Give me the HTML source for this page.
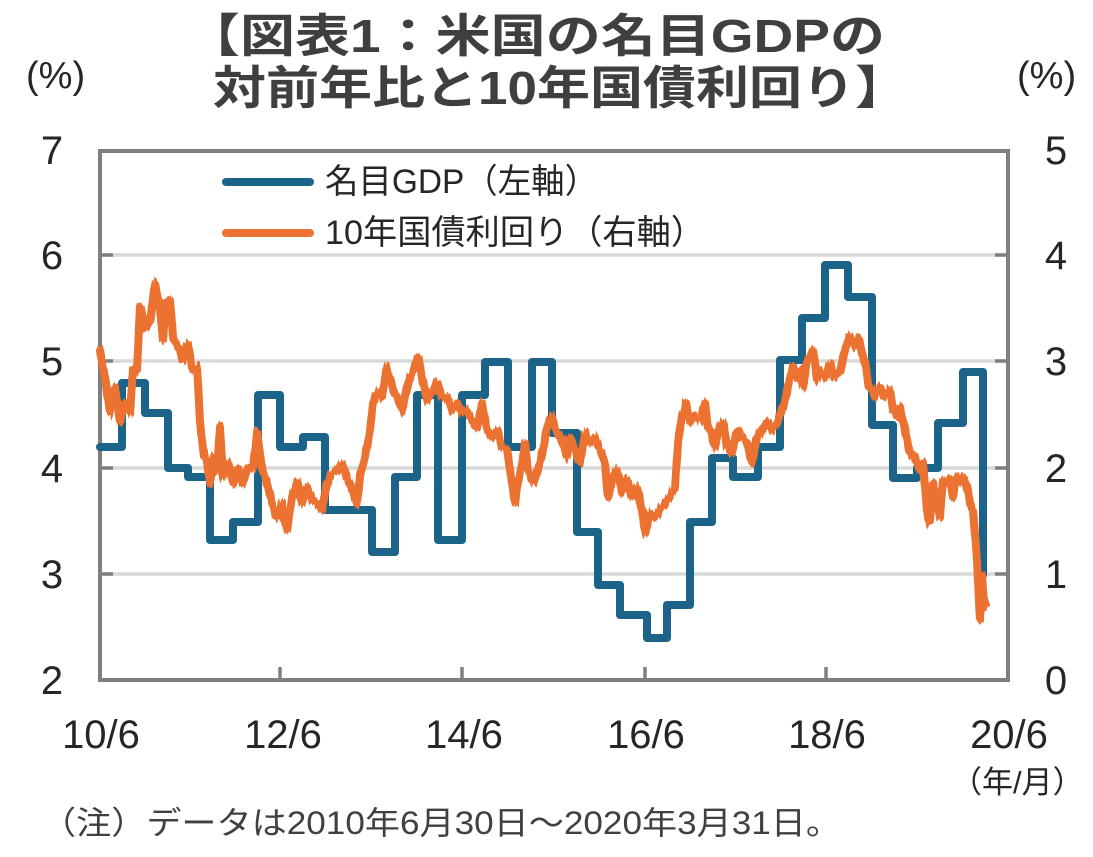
<!DOCTYPE html>
<html><head><meta charset="utf-8">
<style>
html,body{margin:0;padding:0;background:#fff;}
svg{display:block;}
text{font-family:"Liberation Sans","Noto Sans CJK JP",sans-serif;}
</style></head>
<body>
<svg width="1093" height="857" viewBox="0 0 1093 857" xmlns="http://www.w3.org/2000/svg">
<defs>
<filter id="jit" filterUnits="userSpaceOnUse" x="80" y="240" width="940" height="420">
<feTurbulence type="fractalNoise" baseFrequency="0.45 0.02" numOctaves="2" seed="7" result="n"/>
<feColorMatrix in="n" type="matrix" values="0 0 0 0 0.5  0 1 0 0 0  0 0 0 0 0  0 0 0 0 1" result="m"/>
<feDisplacementMap in="SourceGraphic" in2="m" scale="11" xChannelSelector="R" yChannelSelector="G"/>
</filter>
</defs>
<rect width="1093" height="857" fill="#fff"/>
<!-- Title -->
<text x="185" y="52" font-size="46" font-weight="bold" fill="#3f3f3f" textLength="700" lengthAdjust="spacingAndGlyphs">【図表1：米国の名目GDPの</text>
<text x="213" y="104" font-size="46" font-weight="bold" fill="#3f3f3f" textLength="695" lengthAdjust="spacingAndGlyphs">対前年比と10年国債利回り】</text>
<!-- unit labels -->
<text x="26" y="88" font-size="38" fill="#262626">(%)</text>
<text x="1017" y="88" font-size="38" fill="#262626">(%)</text>

<!-- gridlines -->
<g stroke="#d9d9d9" stroke-width="3.5">
<line x1="100" y1="255" x2="1008" y2="255"/>
<line x1="100" y1="361" x2="1008" y2="361"/>
<line x1="100" y1="468" x2="1008" y2="468"/>
<line x1="100" y1="574" x2="1008" y2="574"/>
</g>
<!-- tick stubs -->
<g stroke="#7f7f7f" stroke-width="3.5">
<line x1="100" y1="255" x2="113" y2="255"/>
<line x1="100" y1="361" x2="113" y2="361"/>
<line x1="100" y1="468" x2="113" y2="468"/>
<line x1="100" y1="574" x2="113" y2="574"/>
<line x1="995" y1="255" x2="1008" y2="255"/>
<line x1="995" y1="361" x2="1008" y2="361"/>
<line x1="995" y1="468" x2="1008" y2="468"/>
<line x1="995" y1="574" x2="1008" y2="574"/>
<line x1="280" y1="667" x2="280" y2="680"/>
<line x1="462" y1="667" x2="462" y2="680"/>
<line x1="645" y1="667" x2="645" y2="680"/>
<line x1="826" y1="667" x2="826" y2="680"/>
</g>
<!-- frame -->
<rect x="100" y="151" width="908" height="529" fill="none" stroke="#7f7f7f" stroke-width="4"/>

<!-- axis labels -->
<g font-size="40" fill="#262626" text-anchor="middle">
<text x="52" y="164">7</text>
<text x="52" y="269">6</text>
<text x="52" y="375">5</text>
<text x="52" y="482">4</text>
<text x="52" y="588">3</text>
<text x="52" y="694">2</text>
<text x="1056" y="164">5</text>
<text x="1056" y="269">4</text>
<text x="1056" y="375">3</text>
<text x="1056" y="482">2</text>
<text x="1056" y="588">1</text>
<text x="1056" y="694">0</text>
<text x="101" y="748">10/6</text>
<text x="283" y="748">12/6</text>
<text x="464" y="748">14/6</text>
<text x="646" y="748">16/6</text>
<text x="827" y="748">18/6</text>
<text x="1009" y="748">20/6</text>
</g>
<text x="951" y="793" font-size="31" fill="#262626">（年/月）</text>

<!-- legend -->
<line x1="226" y1="182" x2="310" y2="182" stroke="#1c6389" stroke-width="8" stroke-linecap="round"/>
<line x1="226" y1="233" x2="310" y2="233" stroke="#ec7232" stroke-width="8" stroke-linecap="round"/>
<text x="325" y="193" font-size="34" fill="#262626" textLength="273" lengthAdjust="spacingAndGlyphs">名目GDP（左軸）</text>
<text x="325" y="244" font-size="34" fill="#262626" textLength="380" lengthAdjust="spacingAndGlyphs">10年国債利回り（右軸）</text>

<!-- GDP series -->
<path fill="none" stroke="#1c6389" stroke-width="8" stroke-linejoin="round" stroke-linecap="round"
d="M100,447 H122 V383 H145 V413 H168 V468 H188 V477 H210 V540 H233 V522 H258 V395 H280 V447 H303 V437 H325 V510 H372 V552 H395 V477 H417 V395 H438 V540 H462 V395 H485 V362 H508 V447 H532 V362 H552 V433 H577 V532 H598 V585 H620 V615 H647 V638 H667 V605 H690 V522 H712 V458 H733 V477 H758 V447 H780 V360 H802 V318 H825 V265 H848 V297 H872 V425 H893 V478 H917 V468 H938 V423 H963 V372 H983 V575"/>

<!-- 10y yield series -->
<g filter="url(#jit)">
<polyline fill="none" stroke="#ec7232" stroke-width="8" stroke-linejoin="round" stroke-linecap="round"
points="100,350 105,377 110,413 115,387 120,423 125,403 130,413 133,370 137,370 140,307 145,330 150,323 155,283 160,310 163,340 166,303 170,300 173,337 178,347 183,360 188,343 192,370 197,367 200,420 203,450 207,463 210,483 213,457 217,470 220,427 223,477 228,463 233,483 238,467 243,483 248,467 253,467 257,433 262,467 267,483 272,503 277,517 282,503 287,530 292,497 297,483 302,503 307,487 312,500 317,503 322,510 327,483 332,473 337,470 342,463 347,477 352,490 357,503 360,477 365,457 370,430 373,403 377,393 382,397 387,367 392,387 397,397 402,410 405,397 410,377 415,367 418,357 422,377 427,400 432,393 437,383 442,397 447,397 452,410 457,403 462,413 467,410 472,420 477,427 482,403 487,430 492,437 497,430 502,447 507,450 512,483 515,503 518,483 522,463 525,443 528,470 533,483 538,470 543,450 548,423 552,417 557,433 562,440 567,457 570,437 575,450 580,463 585,433 590,443 595,437 600,450 605,463 608,497 612,483 617,470 622,493 627,480 632,497 637,487 642,510 645,533 650,513 655,517 660,510 665,503 670,497 675,487 678,443 682,417 686,403 690,423 695,417 700,420 705,403 708,427 712,433 715,447 720,427 723,423 727,447 732,453 737,430 742,437 747,443 752,463 757,437 762,430 767,420 772,430 777,423 782,410 787,393 790,377 793,367 797,377 800,370 803,387 807,363 810,357 813,350 817,380 820,370 825,377 830,363 835,377 840,373 843,357 847,343 850,337 855,347 858,337 862,353 865,363 868,383 872,390 875,397 880,387 885,397 890,390 893,410 897,417 900,407 905,430 910,453 915,457 920,470 923,463 927,510 930,523 933,483 937,503 940,517 943,480 947,483 950,477 953,497 957,477 960,483 963,477 967,487 970,503 973,510 975,533 977,560 978,583 980,620 982,577 984,607 986,603"/>
</g>

<!-- note -->
<text x="41" y="834" font-size="32" fill="#404040" textLength="800" lengthAdjust="spacingAndGlyphs">（注）データは2010年6月30日～2020年3月31日。</text>
</svg>
</body></html>
